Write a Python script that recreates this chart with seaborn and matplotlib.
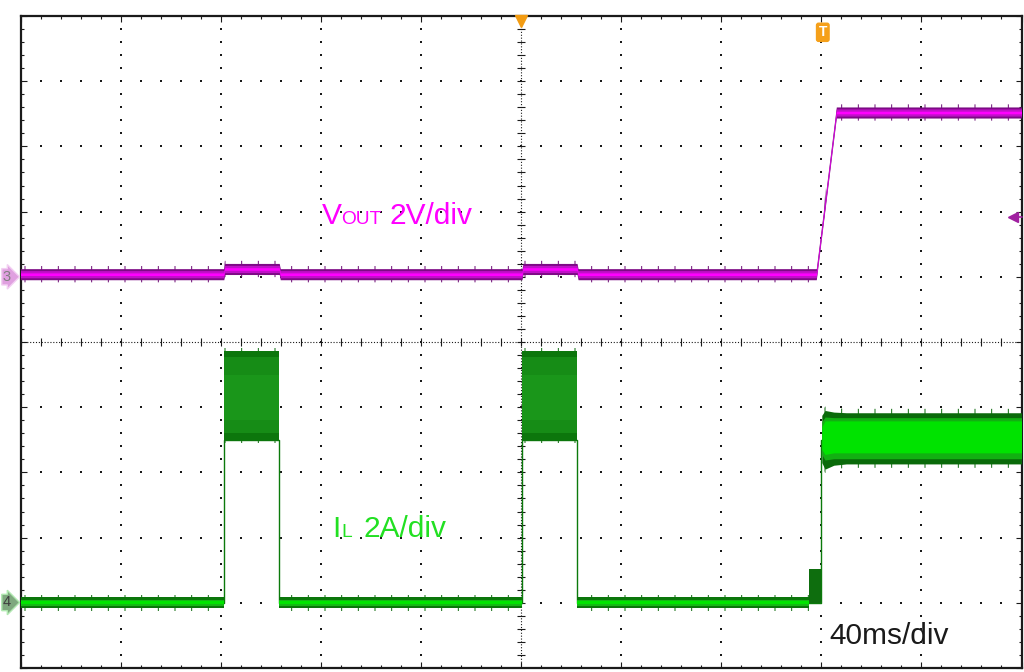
"""
Scope capture: VOUT / IL start-up with hiccup pulses, redrawn with seaborn + matplotlib.
"""
import numpy as np
import pandas as pd
import matplotlib
matplotlib.use("Agg")
import matplotlib.pyplot as plt
import seaborn as sns

sns.set_theme(style="white")
plt.rcParams["font.family"] = ["Liberation Sans", "DejaVu Sans"]
plt.rcParams["hatch.linewidth"] = 0.7

# ---- scope settings ----
MS_PER_DIV = 40
V_PER_DIV = 2.0
A_PER_DIV = 2.0
CH3_POS = 1.0    # divisions, VOUT ground marker
CH4_POS = -4.0   # divisions, IL ground marker

# ---- CH3: VOUT (V) ----
vout_t = [0, 81.2, 81.6, 103.4, 103.8, 200.4, 200.8, 222.4, 222.8, 318.0, 326.0, 400]
vout_v = [0.08, 0.08, 0.24, 0.24, 0.08, 0.08, 0.24, 0.24, 0.08, 0.08, 5.04, 5.04]
vout_band = [0.17, 0.11, 0.04]            # half-widths of noise band layers (V)
vout_colors = ["#7d0a85", "#c010c8", "#ff00ff"]
vout_spike = 0.25                         # reach of noise spikes (V)

# ---- CH4: IL (A) ----
il_line_t = [0, 81.2, 81.2, 103.4, 103.4, 200.4, 200.4, 222.4, 222.4, 320.0, 320.0, 400]
il_line_i = [0, 0, 5.0, 5.0, 0, 0, 5.0, 5.0, 0, 0, 5.0, 5.0]
il_idle = [(0, 81.2), (103.4, 200.4), (222.4, 315.2)]
il_idle_band = [0.17, 0.10, 0.05]
il_idle_colors = ["#0a760a", "#14b814", "#00e400"]
il_pulses = [(81.2, 103.4), (200.4, 222.4)]
pulse_lo, pulse_hi = 4.97, 7.73
pre_step = (315.2, 319.8, 1.04)           # start, end, level (A)
steady_t = [320.2, 321.5, 325.0, 330.0, 400.0]
steady_hi = [5.75, 5.90, 5.85, 5.83, 5.83]
steady_lo = [4.30, 4.10, 4.22, 4.26, 4.26]
steady_mid_hi = [5.55, 5.70, 5.68, 5.68, 5.68]
steady_mid_lo = [4.55, 4.38, 4.42, 4.42, 4.42]
steady_in_hi = [5.40, 5.58, 5.58, 5.58, 5.58]
steady_in_lo = [4.70, 4.55, 4.60, 4.60, 4.60]

trig_level_div = 1.92


def v2div(v):
    return CH3_POS + np.asarray(v) / V_PER_DIV


def i2div(i):
    return CH4_POS + np.asarray(i) / A_PER_DIV


fig = plt.figure(figsize=(10.24, 6.72), dpi=100)
ax = fig.add_axes([20.5 / 1024, 4 / 672, 1001 / 1024, 652 / 672])
ax.set_xlim(0, 10 * MS_PER_DIV)
ax.set_ylim(-5, 5)
ax.set_facecolor("white")

# ---- graticule ----
minor_x = np.arange(0, 400.1, MS_PER_DIV / 5)
minor_y = np.arange(-5, 5.001, 0.2)
for gx in range(40, 400, 40):
    if gx == 200:
        continue
    ax.scatter(np.full_like(minor_y, gx), minor_y, s=1.0, marker="s", c="k", lw=0, zorder=1)
for gy in range(-4, 5):
    if gy == 0:
        continue
    ax.scatter(minor_x, np.full_like(minor_x, gy), s=1.0, marker="s", c="k", lw=0, zorder=1)
ax.axhline(0, color="k", lw=0.8, ls=(0, (1, 1.6)), zorder=1)
ax.axvline(200, color="k", lw=0.8, ls=(0, (1, 1.6)), zorder=1)
ax.plot(minor_x, np.zeros_like(minor_x), ls="none", marker="|", ms=6, mew=0.8, color="k", zorder=1)
ax.plot(np.full_like(minor_y, 200), minor_y, ls="none", marker="_", ms=6, mew=0.8, color="k", zorder=1)

ax.set_xticks(np.arange(0, 401, 40))
ax.set_xticks(minor_x, minor=True)
ax.set_yticks(np.arange(-5, 6, 1))
ax.set_yticks(minor_y, minor=True)
ax.tick_params(which="both", direction="in", top=True, right=True, bottom=True, left=True,
               labelbottom=False, labelleft=False, color="k", width=0.8)
ax.tick_params(which="major", length=4)
ax.tick_params(which="minor", length=2.5)
for sp in ax.spines.values():
    sp.set_color("k")
    sp.set_linewidth(1.6)

# ---- CH4: IL ----
sns.lineplot(x=il_line_t, y=i2div(il_line_i), sort=False, estimator=None,
             color="#0b7a0b", lw=1.0, ax=ax, zorder=3)
for (a, b) in il_idle:
    ax.fill_between([a, b], i2div(-0.24), i2div(0.24), facecolor="none", edgecolor="#0a6a0a",
                    hatch="|", lw=0, zorder=3)
    for hw, col in zip(il_idle_band, il_idle_colors):
        ax.fill_between([a, b], i2div(-hw), i2div(hw), color=col, lw=0, zorder=3)
for (a, b) in il_pulses:
    ax.fill_between([a, b], i2div(pulse_lo - 0.08), i2div(pulse_hi + 0.08), facecolor="none",
                    edgecolor="#0a6a0a", hatch="|", lw=0, zorder=3)
    ax.fill_between([a, b], i2div(pulse_lo), i2div(pulse_hi), color="#0c760c", lw=0, zorder=3)
    ax.fill_between([a, b], i2div(pulse_lo + 0.25), i2div(pulse_hi - 0.2), color="#168c16", lw=0, zorder=3)
    ax.fill_between([a, b], i2div(5.6), i2div(7.0), color="#1a961a", lw=0, zorder=3)
ax.fill_between([pre_step[0], pre_step[1]], i2div(0), i2div(pre_step[2]), color="#0e6e0e", lw=0, zorder=3)
ax.fill_between(steady_t, i2div(np.array(steady_lo) - 0.12), i2div(np.array(steady_hi) + 0.12),
                facecolor="none", edgecolor="#0a6a0a", hatch="|", lw=0, zorder=3)
ax.fill_between(steady_t, i2div(steady_lo), i2div(steady_hi), color="#0a6a0a", lw=0, zorder=3)
ax.fill_between(steady_t, i2div(steady_mid_lo), i2div(steady_mid_hi), color="#12b012", lw=0, zorder=3)
ax.fill_between(steady_t, i2div(steady_in_lo), i2div(steady_in_hi), color="#00e300", lw=0, zorder=3)

# ---- CH3: VOUT ----
vv = np.array(vout_v)
ax.fill_between(vout_t, v2div(vv - vout_spike), v2div(vv + vout_spike), facecolor="none",
                edgecolor="#6a0a72", hatch="|", lw=0, zorder=4)
for hw, col in zip(vout_band, vout_colors):
    ax.fill_between(vout_t, v2div(vv - hw), v2div(vv + hw), color=col, lw=0, zorder=4)

# ---- labels ----
mag = "#ff00ff"
grn = "#22e022"
ax.text(120.4, 1.81, "V", color=mag, fontsize=21.5, ha="left", va="baseline", zorder=5)
ax.text(128.3, 1.81, "OUT", color=mag, fontsize=13.8, ha="left", va="baseline", zorder=5)
ax.text(147.6, 1.81, "2V/div", color=mag, fontsize=21.5, ha="left", va="baseline", zorder=5)
ax.text(124.4, -2.99, "I", color=grn, fontsize=21.5, ha="left", va="baseline", zorder=5)
ax.text(128.2, -2.99, "L", color=grn, fontsize=13.8, ha="left", va="baseline", zorder=5)
ax.text(137.2, -2.99, "2A/div", color=grn, fontsize=21.5, ha="left", va="baseline", zorder=5)
ax.text(323.2, -4.63, "40ms/div", color="k", fontsize=21.5, ha="left", va="baseline", zorder=5)

# ---- scope markers ----
ax.plot(200, 4.93, marker="v", ms=8, color="#f39c12", mec="#f39c12", clip_on=False, zorder=6)
ax.text(320.6, 4.75, "T", color="white", fontsize=10, fontweight="bold", ha="center", va="center",
        bbox=dict(boxstyle="round,pad=0.15", fc="#f5a01a", ec="#f5a01a"), zorder=6)
ax.plot([396.8, 400], [trig_level_div, trig_level_div], color="#a020a0", lw=1.2, clip_on=False, zorder=6)
ax.plot(396.8, trig_level_div, marker="<", ms=7, color="#a020a0", mec="#a020a0", clip_on=False, zorder=6)
fig.text(7 / 1024, (672 - 276.8) / 672, "3", color="#808080", fontsize=10.5, ha="center", va="center",
         bbox=dict(boxstyle="rarrow,pad=0.08", fc="#e0a0e0", ec="#f2cff2", lw=1))
fig.text(7 / 1024, (672 - 602.5) / 672, "4", color="#404040", fontsize=10.5, ha="center", va="center",
         bbox=dict(boxstyle="rarrow,pad=0.08", fc="#7fa87f", ec="#b0e8b0", lw=1))

fig.savefig("out.png", dpi=100)
